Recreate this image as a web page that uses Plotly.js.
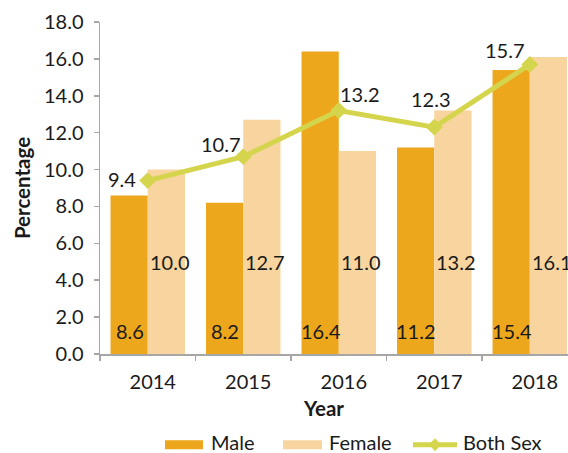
<!DOCTYPE html>
<html><head><meta charset="utf-8">
<script src="https://cdn.plot.ly/plotly-3.0.1.min.js"></script>
<style>html,body{margin:0;padding:0;background:#fff}</style>
</head><body><div id="chart" style="width:568px;height:453px"></div>
<script>
var years = ['2014','2015','2016','2017','2018'];
var male = [8.6, 8.2, 16.4, 11.2, 15.4];
var female = [10.0, 12.7, 11.0, 13.2, 16.1];
var both = [9.4, 10.7, 13.2, 12.3, 15.7];

var FONT = 'Lato, "Open Sans", sans-serif';
var TXT = '#1a1a1a';
var C_MALE = '#EDA71C', C_FEMALE = '#F8D59F', C_BOTH = '#D5D54D';
var FS = 20;

// label offsets for the line labels (pixels), layout only
var bothOffX = [-26, -22, 21, -3, -25];
var bothOffY = [2, 13, 17, 28, 14];

var traces = [
  {type:'bar', name:'Male', x:years, y:male, marker:{color:C_MALE}, hoverinfo:'y'},
  {type:'bar', name:'Female', x:years, y:female, marker:{color:C_FEMALE}, hoverinfo:'y'},
  {type:'scatter', mode:'lines+markers', name:'Both Sex', x:years, y:both,
   line:{color:C_BOTH, width:5}, marker:{symbol:'diamond', size:13, color:C_BOTH}}
];

var ann = [];
years.forEach(function(yr, i){
  ann.push({x:i, y:0, xref:'x', yref:'y', text:male[i].toFixed(1), showarrow:false,
    xanchor:'center', yanchor:'bottom', xshift:-18, yshift:9, font:{family:FONT, size:FS, color:TXT}});
  ann.push({x:i, y:5, xref:'x', yref:'y', text:female[i].toFixed(1), showarrow:false,
    xanchor:'center', yanchor:'middle', xshift:22, font:{family:FONT, size:FS, color:TXT}});
  ann.push({x:i, y:both[i], xref:'x', yref:'y', text:both[i].toFixed(1), showarrow:false,
    xanchor:'center', yanchor:'middle', xshift:bothOffX[i], yshift:bothOffY[i], font:{family:FONT, size:FS, color:TXT}});
});

// pixel -> paper helpers for the hand-built legend
var L = 100, T = 22, W = 468, H = 332.5;
function px(x){ return (x - L) / W; }
function py(y){ return (T + H - y) / H; }

ann.push({x:px(323), y:py(409), xref:'paper', yref:'paper', text:'<b>Year</b>', showarrow:false,
  xanchor:'center', yanchor:'middle', font:{family:FONT, size:20.5, color:TXT}});
ann.push({x:px(209), y:py(443), xref:'paper', yref:'paper', text:'Male', showarrow:false,
  xanchor:'left', yanchor:'middle', font:{family:FONT, size:FS, color:TXT}});
ann.push({x:px(327), y:py(443), xref:'paper', yref:'paper', text:'Female', showarrow:false,
  xanchor:'left', yanchor:'middle', font:{family:FONT, size:FS, color:TXT}});
ann.push({x:px(461), y:py(443), xref:'paper', yref:'paper', text:'Both Sex', showarrow:false,
  xanchor:'left', yanchor:'middle', font:{family:FONT, size:FS, color:TXT}});

var shapes = [
  {type:'rect', xref:'paper', yref:'paper', x0:px(165), x1:px(203), y0:py(450), y1:py(441), fillcolor:C_MALE, line:{width:0}},
  {type:'rect', xref:'paper', yref:'paper', x0:px(283), x1:px(322), y0:py(450), y1:py(441), fillcolor:C_FEMALE, line:{width:0}},
  {type:'line', xref:'paper', yref:'paper', x0:px(413), x1:px(457), y0:py(445.5), y1:py(445.5), line:{color:C_BOTH, width:5}},
  {type:'path', xref:'paper', yref:'paper',
   path:'M '+px(435)+' '+py(439)+' L '+px(441)+' '+py(445.5)+' L '+px(435)+' '+py(452)+' L '+px(429)+' '+py(445.5)+' Z',
   fillcolor:C_BOTH, line:{width:0}}
];

var layout = {
  width:568, height:453,
  margin:{l:100, r:0, t:22, b:98.5, pad:0},
  paper_bgcolor:'#fff', plot_bgcolor:'#fff',
  font:{family:FONT, size:FS, color:TXT},
  showlegend:false,
  bargap:0.22, bargroupgap:0, barmode:'group',
  xaxis:{type:'category', range:[-0.5, 4.4], showgrid:false, zeroline:false,
    showline:true, linecolor:'#A6A6A6', linewidth:1.5,
    ticks:'outside', tickson:'boundaries', ticklen:5, tickcolor:'#A6A6A6', tickwidth:1.5,
    ticklabelshift:5, ticklabelstandoff:9,
    tickfont:{family:FONT, size:FS, color:TXT}, automargin:false, fixedrange:true},
  yaxis:{range:[0,18], dtick:2, tickformat:'.1f', showgrid:false, zeroline:false,
    showline:true, linecolor:'#A6A6A6', linewidth:1.5,
    ticks:'outside', ticklen:5, tickcolor:'#A6A6A6', tickwidth:1.5,
    ticklabelstandoff:6,
    tickfont:{family:FONT, size:FS, color:TXT},
    title:{text:'<b>Percentage</b>', font:{family:FONT, size:20.5, color:TXT}, standoff:8},
    automargin:false, fixedrange:true},
  annotations:ann,
  shapes:shapes
};

Plotly.newPlot('chart', traces, layout, {displayModeBar:false, staticPlot:true});
</script></body></html>
